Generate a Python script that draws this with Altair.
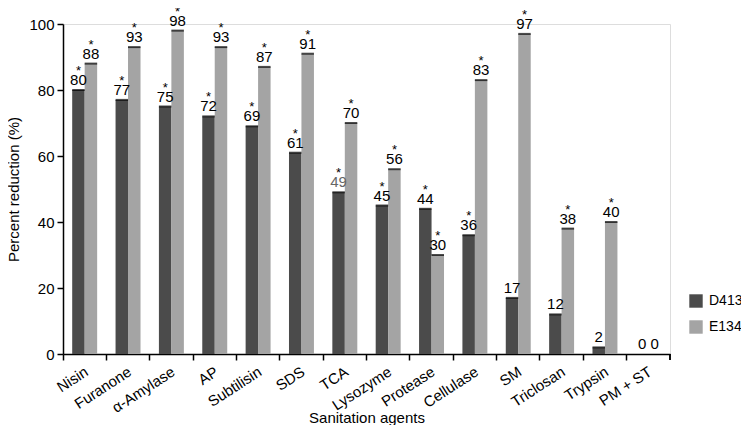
import altair as alt
import pandas as pd

agents = ["Nisin", "Furanone", "α-Amylase", "AP", "Subtilisin", "SDS", "TCA",
          "Lysozyme", "Protease", "Cellulase", "SM", "Triclosan", "Trypsin", "PM + ST"]
d413 = [80, 77, 75, 72, 69, 61, 49, 45, 44, 36, 17, 12, 2, 0]
e134 = [88, 93, 98, 93, 87, 91, 70, 56, 30, 83, 97, 38, 40, 0]
d413_sig = ["*", "*", "*", "*", "*", "*", "*", "*", "*", "*", "", "", "", ""]
e134_sig = ["*", "*", "*", "*", "*", "*", "*", "*", "*", "*", "*", "*", "*", ""]
strains = ["D413", "E134"]

rows = []
for i, a in enumerate(agents):
    rows.append({"agent": a, "strain": "D413", "value": d413[i], "star": d413_sig[i]})
    rows.append({"agent": a, "strain": "E134", "value": e134[i], "star": e134_sig[i]})
df = pd.DataFrame(rows)

FONT = "Liberation Sans"
W, H = 607, 330

x = alt.X("agent:N", sort=agents, title="Sanitation agents",
          scale=alt.Scale(paddingInner=0, paddingOuter=0),
          axis=alt.Axis(bandPosition=0, labelOffset=-2, labelAngle=-33,
                        labelAlign="right", labelBaseline="top",
                        labelFontSize=15, labelFont=FONT, labelColor="#000",
                        titleFontSize=15, titleFont=FONT, titleFontWeight="normal",
                        titleColor="#000", titleY=56, titleBaseline="top",
                        domainColor="#000", domainWidth=1.5,
                        tickColor="#000", tickWidth=1.5, tickSize=6, labelPadding=4))
xo = alt.XOffset("strain:N", sort=strains,
                 scale=alt.Scale(paddingInner=0, paddingOuter=0.74))
y = alt.Y("value:Q", title="Percent reduction (%)",
          scale=alt.Scale(domain=[0, 100], nice=False),
          axis=alt.Axis(values=[0, 20, 40, 60, 80, 100], grid=False,
                        labelFontSize=15, labelFont=FONT, labelColor="#000",
                        titleFontSize=15, titleFont=FONT, titleFontWeight="normal",
                        titleColor="#000", titlePadding=7,
                        domainColor="#000", domainWidth=1.5,
                        tickColor="#000", tickWidth=1.5, tickSize=6, labelPadding=3))

color = alt.Color("strain:N", sort=strains, title=None,
                  scale=alt.Scale(domain=strains, range=["#4b4b4b", "#a4a4a4"]),
                  legend=alt.Legend(orient="none", legendX=626, legendY=270,
                                    symbolType="square", symbolSize=180,
                                    symbolStrokeWidth=0,
                                    labelFontSize=14, labelFont=FONT, labelColor="#000",
                                    rowPadding=12, labelOffset=6))

base = alt.Chart(df).encode(x=x, xOffset=xo, y=y)

bars = base.mark_bar(size=12.5).encode(color=color)
caps = base.mark_tick(color="#000", thickness=2, size=12.5, orient="horizontal").transform_filter(
    alt.datum.value > 0)
labels = base.mark_text(baseline="alphabetic", dy=-5, fontSize=15, font=FONT).encode(
    text=alt.Text("value:Q"),
    color=alt.condition((alt.datum.agent == "TCA") & (alt.datum.strain == "D413"),
                        alt.value("#666666"), alt.value("#000000")))
stars = base.mark_text(baseline="alphabetic", dy=-15, fontSize=13, font=FONT, color="#000").encode(
    text="star:N")

edge = alt.Chart(df).mark_rule(color="#000", strokeWidth=1.5).encode(
    x=alt.value(W), y=alt.value(H), y2=alt.value(H + 6)).transform_filter(alt.datum.agent == "Nisin")

chart = alt.layer(bars, caps, labels, stars, edge).properties(
    width=W, height=H,
    autosize=alt.AutoSizeParams(type="none"),
    padding={"left": 55, "top": 16, "right": 71, "bottom": 71},
).configure_view(stroke=None).configure(background="white")

chart.save("out.html", embed_options={"renderer": "svg", "actions": False})
